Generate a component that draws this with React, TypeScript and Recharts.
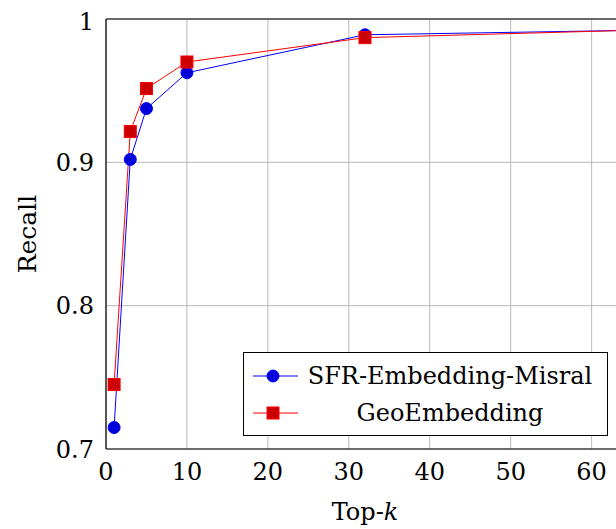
import * as React from "react"
import {
  LineChart,
  Line,
  XAxis,
  YAxis,
  CartesianGrid,
  Legend,
  ReferenceLine,
} from "recharts"

const topK = [1, 3, 5, 10, 32, 64]
const sfrRecall = [0.715, 0.902, 0.9375, 0.9625, 0.989, 0.992]
const geoRecall = [0.745, 0.9215, 0.9515, 0.97, 0.987, 0.992]
const xTicks = [0, 10, 20, 30, 40, 50, 60]
const yTicks = [0.7, 0.8, 0.9, 1]
const seriesNames = ["SFR-Embedding-Misral", "GeoEmbedding"]

const data = topK.map((k, i) => ({ k, sfr: sfrRecall[i], geo: geoRecall[i] }))

const FONT = "'DejaVu Serif', serif"
const FS = 24

const BLUE = "#0000ff"
const BLUE_FILL = "#0000d9"
const RED = "#ff0000"
const RED_FILL = "#cc0000"

const CircleDot = (props: any) => {
  const { cx, cy } = props
  if (cx == null || cy == null) return null
  return <circle key={props.key} cx={cx} cy={cy} r={6} fill={BLUE_FILL} stroke={BLUE} strokeWidth={1} />
}

const SquareDot = (props: any) => {
  const { cx, cy } = props
  if (cx == null || cy == null) return null
  return (
    <rect key={props.key} x={cx - 6} y={cy - 6} width={12} height={12} fill={RED_FILL} stroke={RED} strokeWidth={1} />
  )
}

const LegendBox = () => (
  <div
    style={{
      position: "relative",
      width: 363,
      height: 82,
      border: "1px solid #000",
      background: "#fff",
      fontFamily: FONT,
      fontSize: FS,
      color: "#000",
    }}
  >
    {seriesNames.map((name, i) => (
      <div
        key={name}
        style={{ position: "absolute", left: 0, top: i === 0 ? 5 : 42, width: 363, height: 36 }}
      >
        <svg width={60} height={36} style={{ position: "absolute", left: 0, top: 0 }}>
          <line x1={9} x2={54} y1={18} y2={18} stroke={i === 0 ? BLUE : RED} strokeWidth={1} />
          {i === 0 ? (
            <circle cx={29} cy={18} r={6} fill={BLUE_FILL} stroke={BLUE} />
          ) : (
            <rect x={23} y={12} width={12} height={12} fill={RED_FILL} stroke={RED} />
          )}
        </svg>
        <div
          style={{
            position: "absolute",
            left: 58,
            width: 296,
            top: 0,
            lineHeight: "36px",
            textAlign: "center",
            whiteSpace: "nowrap",
          }}
        >
          {name}
        </div>
      </div>
    ))}
  </div>
)

export default function App() {
  return (
    <div
      style={{ position: "absolute", left: 8, top: 8, width: 608, height: 521, overflow: "hidden" }}
    >
      <LineChart
        width={616}
        height={521}
        data={data}
        margin={{ top: 11, right: 0, bottom: 40, left: 0 }}
      >
        <CartesianGrid stroke="#b8b8b8" strokeWidth={1} />
        <XAxis
          dataKey="k"
          type="number"
          domain={[0, 64]}
          ticks={xTicks}
          allowDataOverflow
          height={40}
          tickLine={false}
          tickSize={0}
          tickMargin={14}
          axisLine={{ stroke: "#000", strokeWidth: 1.2 }}
          tick={{ fill: "#000", fontFamily: FONT, fontSize: FS }}
          label={(p: any) => {
            const vb = p.viewBox
            return (
              <text
                x={vb.x + vb.width / 2}
                y={512}
                textAnchor="middle"
                fontFamily={FONT}
                fontSize={FS}
                fill="#000"
              >
                Top-<tspan fontStyle="italic">k</tspan>
              </text>
            )
          }}
        />
        <YAxis
          type="number"
          domain={[0.7, 1]}
          ticks={yTicks}
          allowDataOverflow
          width={98}
          tickLine={false}
          tickSize={0}
          tickMargin={12}
          axisLine={{ stroke: "#000", strokeWidth: 1.2 }}
          tickFormatter={(v: number) => (v === 1 ? "1" : String(v))}
          tick={{ fill: "#000", fontFamily: FONT, fontSize: FS }}
          label={(p: any) => {
            const vb = p.viewBox
            const cy = vb.y + vb.height / 2
            return (
              <text
                x={28}
                y={cy}
                transform={`rotate(-90, 28, ${cy})`}
                textAnchor="middle"
                fontFamily={FONT}
                fontSize={25}
                fill="#000"
              >
                Recall
              </text>
            )
          }}
        />
        <ReferenceLine y={1} stroke="#444" strokeWidth={1.5} />
        <Line
          dataKey="sfr"
          name={seriesNames[0]}
          stroke={BLUE}
          strokeWidth={1}
          dot={CircleDot}
          activeDot={false}
          isAnimationActive={false}
        />
        <Line
          dataKey="geo"
          name={seriesNames[1]}
          stroke={RED}
          strokeWidth={1}
          dot={SquareDot}
          activeDot={false}
          isAnimationActive={false}
        />
        <Legend
          layout="vertical"
          align="center"
          verticalAlign="middle"
          content={LegendBox}
          wrapperStyle={{ left: 235, top: 344, width: 365 }}
        />
      </LineChart>
    </div>
  )
}
